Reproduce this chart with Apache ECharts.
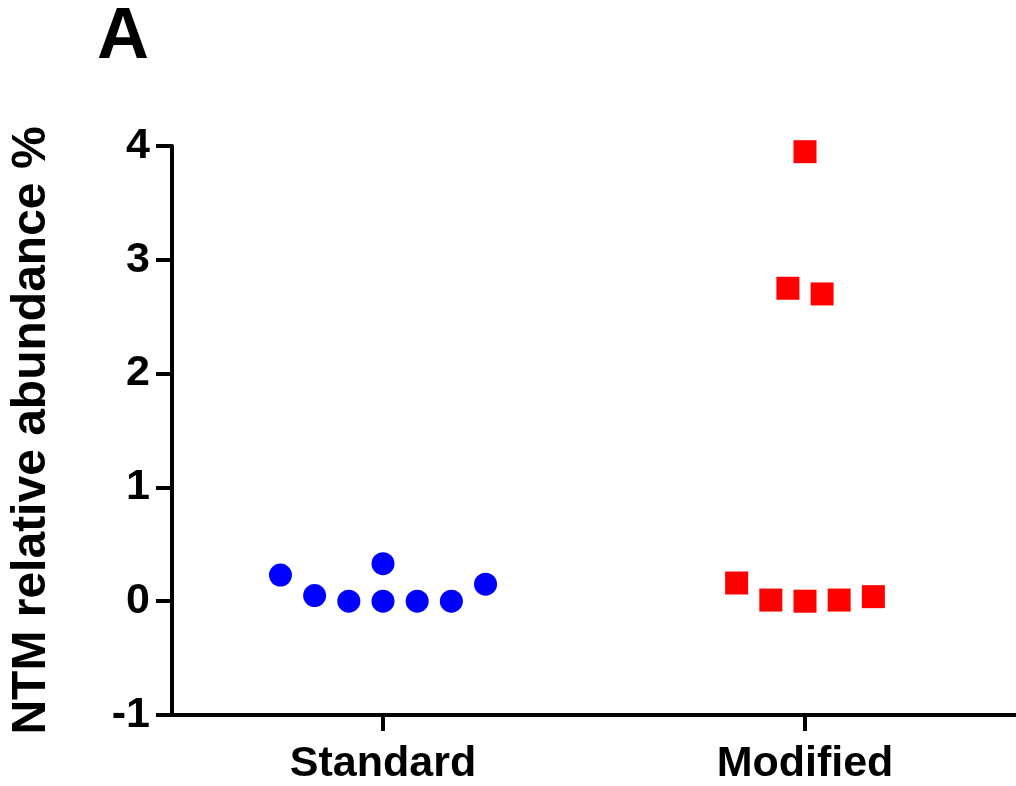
<!DOCTYPE html>
<html>
<head>
<meta charset="utf-8">
<script src="https://cdn.jsdelivr.net/npm/echarts@6/dist/echarts.min.js"></script>
<style>
  html, body { margin: 0; padding: 0; background: #fff; }
  #chart { width: 1016px; height: 786px; }
</style>
</head>
<body>
<div id="chart"></div>
<script>
// groups on the x axis
const groups = ["Standard", "Modified"];
const yTicks = [-1, 0, 1, 2, 3, 4];

// NTM relative abundance % per sample
const standardValues = [0.23, 0.05, 0, 0.33, 0, 0, 0, 0.15];
const modifiedValues = [3.95, 2.75, 2.70, 0.16, 0.01, 0, 0.01, 0.04];
// horizontal scatter slot of each sample inside its group (column layout)
const standardSlots = [-3, -2, -1, 0, 0, 1, 2, 3];
const modifiedSlots = [0, -0.5, 0.5, -2, -1, 0, 1, 2];

const slotWidth = 0.081;
const font = "'Liberation Sans', Arial, sans-serif";

function toPoints(groupIndex, values, slots) {
  return values.map((v, i) => [groupIndex + 1 + slots[i] * slotWidth, v]);
}

const chart = echarts.init(document.getElementById("chart"), null, { renderer: "canvas" });

chart.setOption({
  animation: false,
  backgroundColor: "#fff",
  title: {
    text: "A",
    left: 92,
    top: -3,
    textStyle: { fontFamily: font, fontWeight: "bold", fontSize: 72, color: "#000" }
  },
  grid: { left: 172, right: 0, top: 146, bottom: 71, containLabel: false, outerBoundsMode: "none" },
  xAxis: {
    type: "value",
    min: 0.5,
    max: 2.5,
    splitLine: { show: false },
    axisLine: { onZero: false, lineStyle: { color: "#000", width: 4 } },
    axisTick: { show: true, customValues: [1, 2], length: 16, lineStyle: { color: "#000", width: 4 } },
    axisLabel: {
      customValues: [1, 2],
      formatter: (v) => groups[Math.round(v) - 1] || "",
      margin: 28,
      fontFamily: font,
      fontWeight: "bold",
      fontSize: 43,
      color: "#000"
    }
  },
  yAxis: {
    type: "value",
    min: yTicks[0],
    max: yTicks[yTicks.length - 1],
    interval: 1,
    name: "NTM relative abundance %",
    nameLocation: "middle",
    nameRotate: 90,
    nameGap: 116,
    nameTextStyle: { fontFamily: font, fontWeight: "bold", fontSize: 48, color: "#000" },
    splitLine: { show: false },
    axisLine: { show: true, lineStyle: { color: "#000", width: 4 } },
    axisTick: { show: true, length: 16, lineStyle: { color: "#000", width: 4 } },
    axisLabel: {
      margin: 22,
      fontFamily: font,
      fontWeight: "bold",
      fontSize: 43,
      color: "#000"
    }
  },
  series: [
    {
      name: groups[0],
      type: "scatter",
      symbol: "circle",
      symbolSize: 23,
      itemStyle: { color: "#0000ff", opacity: 1 },
      data: toPoints(0, standardValues, standardSlots)
    },
    {
      name: groups[1],
      type: "scatter",
      symbol: "rect",
      symbolSize: 23,
      itemStyle: { color: "#ff0000", opacity: 1 },
      data: toPoints(1, modifiedValues, modifiedSlots)
    }
  ]
});
</script>
</body>
</html>
